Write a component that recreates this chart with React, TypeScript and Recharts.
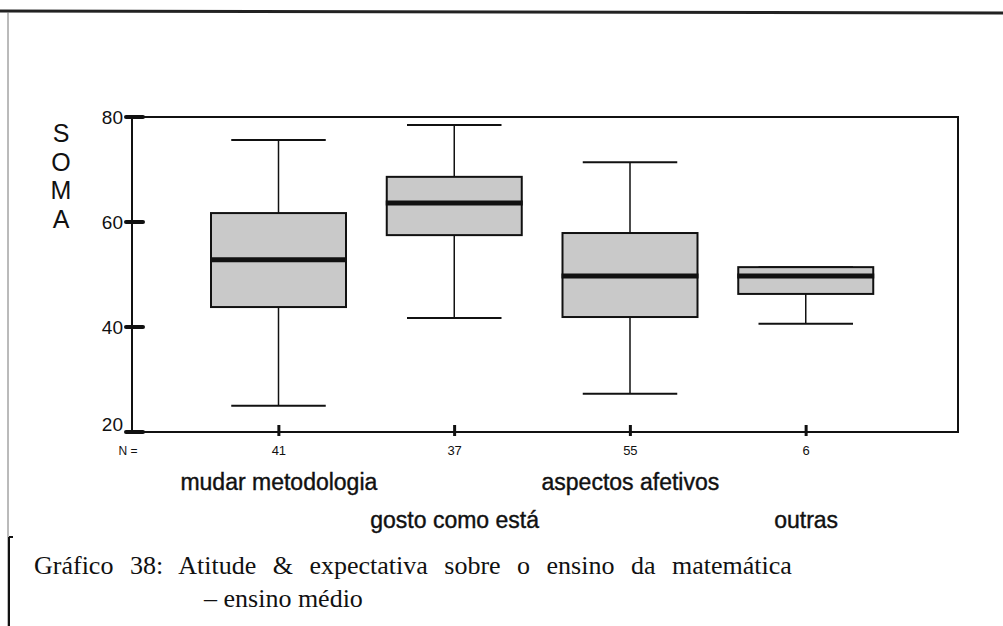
import React from 'react';
import { ComposedChart, Bar, XAxis, YAxis, usePlotArea } from 'recharts';

const categories = ['mudar metodologia', 'gosto como está', 'aspectos afetivos', 'outras'];
const counts = [41, 37, 55, 6];
const whiskerLow = [25, 41.7, 27.3, 40.6];
const lowerQuartile = [43.8, 57.5, 41.9, 46.3];
const medians = [52.8, 63.6, 49.7, 49.7];
const upperQuartile = [61.7, 68.6, 57.9, 51.4];
const whiskerHigh = [75.6, 78.5, 71.4, 51.4];
const yTicks = [20, 40, 60, 80];
const yLetters = ['S', 'O', 'M', 'A'];

const data = categories.map((name, i) => ({
  name,
  n: counts[i],
  box: [lowerQuartile[i], upperQuartile[i]],
  min: whiskerLow[i],
  q1: lowerQuartile[i],
  median: medians[i],
  q3: upperQuartile[i],
  max: whiskerHigh[i],
}));

const INK = '#111';
const NARROW = '"Liberation Sans Narrow", "Arial Narrow", "Liberation Sans", Arial, sans-serif';
const SANS = '"Liberation Sans", Arial, sans-serif';
const SERIF = '"Liberation Serif", "Times New Roman", serif';

// box + whiskers, positions taken from the bar the library already scaled
const BoxShape = (props: any) => {
  const { x, y, width, height, payload } = props;
  if (height == null || !payload) return null;
  const ppu = height / (payload.q3 - payload.q1);
  const toY = (v: number) => y + (payload.q3 - v) * ppu;
  const cx = x + width / 2;
  const cap = width * 0.35;
  const yMax = toY(payload.max);
  const yMin = toY(payload.min);
  const yMed = toY(payload.median);
  return (
    <g>
      <line x1={cx} x2={cx} y1={yMax} y2={y} stroke={INK} strokeWidth={1.5} />
      <line x1={cx} x2={cx} y1={y + height} y2={yMin} stroke={INK} strokeWidth={1.5} />
      <line x1={cx - cap} x2={cx + cap} y1={yMax} y2={yMax} stroke={INK} strokeWidth={2} />
      <line x1={cx - cap} x2={cx + cap} y1={yMin} y2={yMin} stroke={INK} strokeWidth={2} />
      <rect x={x} y={y} width={width} height={height} fill="#c9c9c9" stroke={INK} strokeWidth={2} />
      <line x1={x - 1} x2={x + width + 1} y1={yMed} y2={yMed} stroke={INK} strokeWidth={5} />
    </g>
  );
};

// closed frame round the plot area
const PlotFrame = () => {
  const area = usePlotArea();
  if (!area) return null;
  return (
    <rect x={area.x} y={area.y} width={area.width} height={area.height} fill="none" stroke={INK} strokeWidth={2} />
  );
};

const YTick = ({ x, y, payload }: any) => (
  <g>
    <line x1={x - 6} x2={x + 11} y1={y} y2={y} stroke={INK} strokeWidth={4} strokeLinecap="round" />
    <text
      x={x - 9}
      y={payload.value === 20 ? y - 8 : y}
      dy="0.35em"
      textAnchor="end"
      fontFamily={NARROW}
      fontSize={19}
      fill={INK}
    >
      {payload.value}
    </text>
  </g>
);

const XTick = ({ x, y, payload, index }: any) => (
  <g>
    <line x1={x} x2={x} y1={y - 7} y2={y + 4} stroke={INK} strokeWidth={3} />
    <text x={x} y={y + 23} textAnchor="middle" fontFamily={SANS} fontSize={13} fill={INK}>
      {counts[index]}
    </text>
    <text
      x={x}
      y={y + (index % 2 === 0 ? 58 : 96)}
      textAnchor="middle"
      fontFamily={SANS}
      fontSize={23}
      fill={INK}
      stroke={INK}
      strokeWidth={0.4}
    >
      {payload.value}
    </text>
  </g>
);

export default function App() {
  return (
    <div style={{ position: 'absolute', left: 0, top: 0, width: 1003, height: 626, background: '#fff' }}>
      <ComposedChart
        width={1003}
        height={626}
        data={data}
        margin={{ top: 117, right: 45, left: 72, bottom: 94 }}
      >
        <XAxis
          dataKey="name"
          height={100}
          padding={{ left: 59, right: 64 }}
          tickSize={0}
          tickMargin={0}
          tick={<XTick />}
          tickLine={false}
          axisLine={{ stroke: INK, strokeWidth: 2 }}
          interval={0}
        />
        <YAxis
          domain={[20, 80]}
          ticks={yTicks}
          width={60}
          tickSize={0}
          tickMargin={0}
          tick={<YTick />}
          tickLine={false}
          axisLine={{ stroke: INK, strokeWidth: 2 }}
          allowDataOverflow
        />
        <PlotFrame />
        <Bar dataKey="box" barSize={135} shape={<BoxShape />} isAnimationActive={false} />
      </ComposedChart>

      <svg
        width={1003}
        height={626}
        style={{ position: 'absolute', left: 0, top: 0, pointerEvents: 'none' }}
      >
        {/* page frame */}
        <line x1={0} x2={1003} y1={11} y2={13} stroke="#222" strokeWidth={3} />
        <line x1={8} x2={8} y1={12} y2={626} stroke="#777" strokeWidth={1} />
        <line x1={9} x2={9} y1={537} y2={626} stroke={INK} strokeWidth={2} />
        <line x1={9} x2={13} y1={537} y2={537} stroke={INK} strokeWidth={2} />

        {yLetters.map((ch, i) => (
          <text key={ch} x={61} y={142 + i * 28.5} textAnchor="middle" fontFamily={SANS} fontSize={25} fill={INK}>
            {ch}
          </text>
        ))}
        <text x={128} y={455} textAnchor="middle" fontFamily={SANS} fontSize={12} fill={INK}>
          N =
        </text>

        <text x={34} y={574} fontFamily={SERIF} fontSize={26} wordSpacing={10} fill={INK}>
          Gráfico 38: Atitude &amp; expectativa sobre o ensino da matemática
        </text>
        <text x={204} y={607} fontFamily={SERIF} fontSize={26} fill={INK}>
          – ensino médio
        </text>
      </svg>
    </div>
  );
}
